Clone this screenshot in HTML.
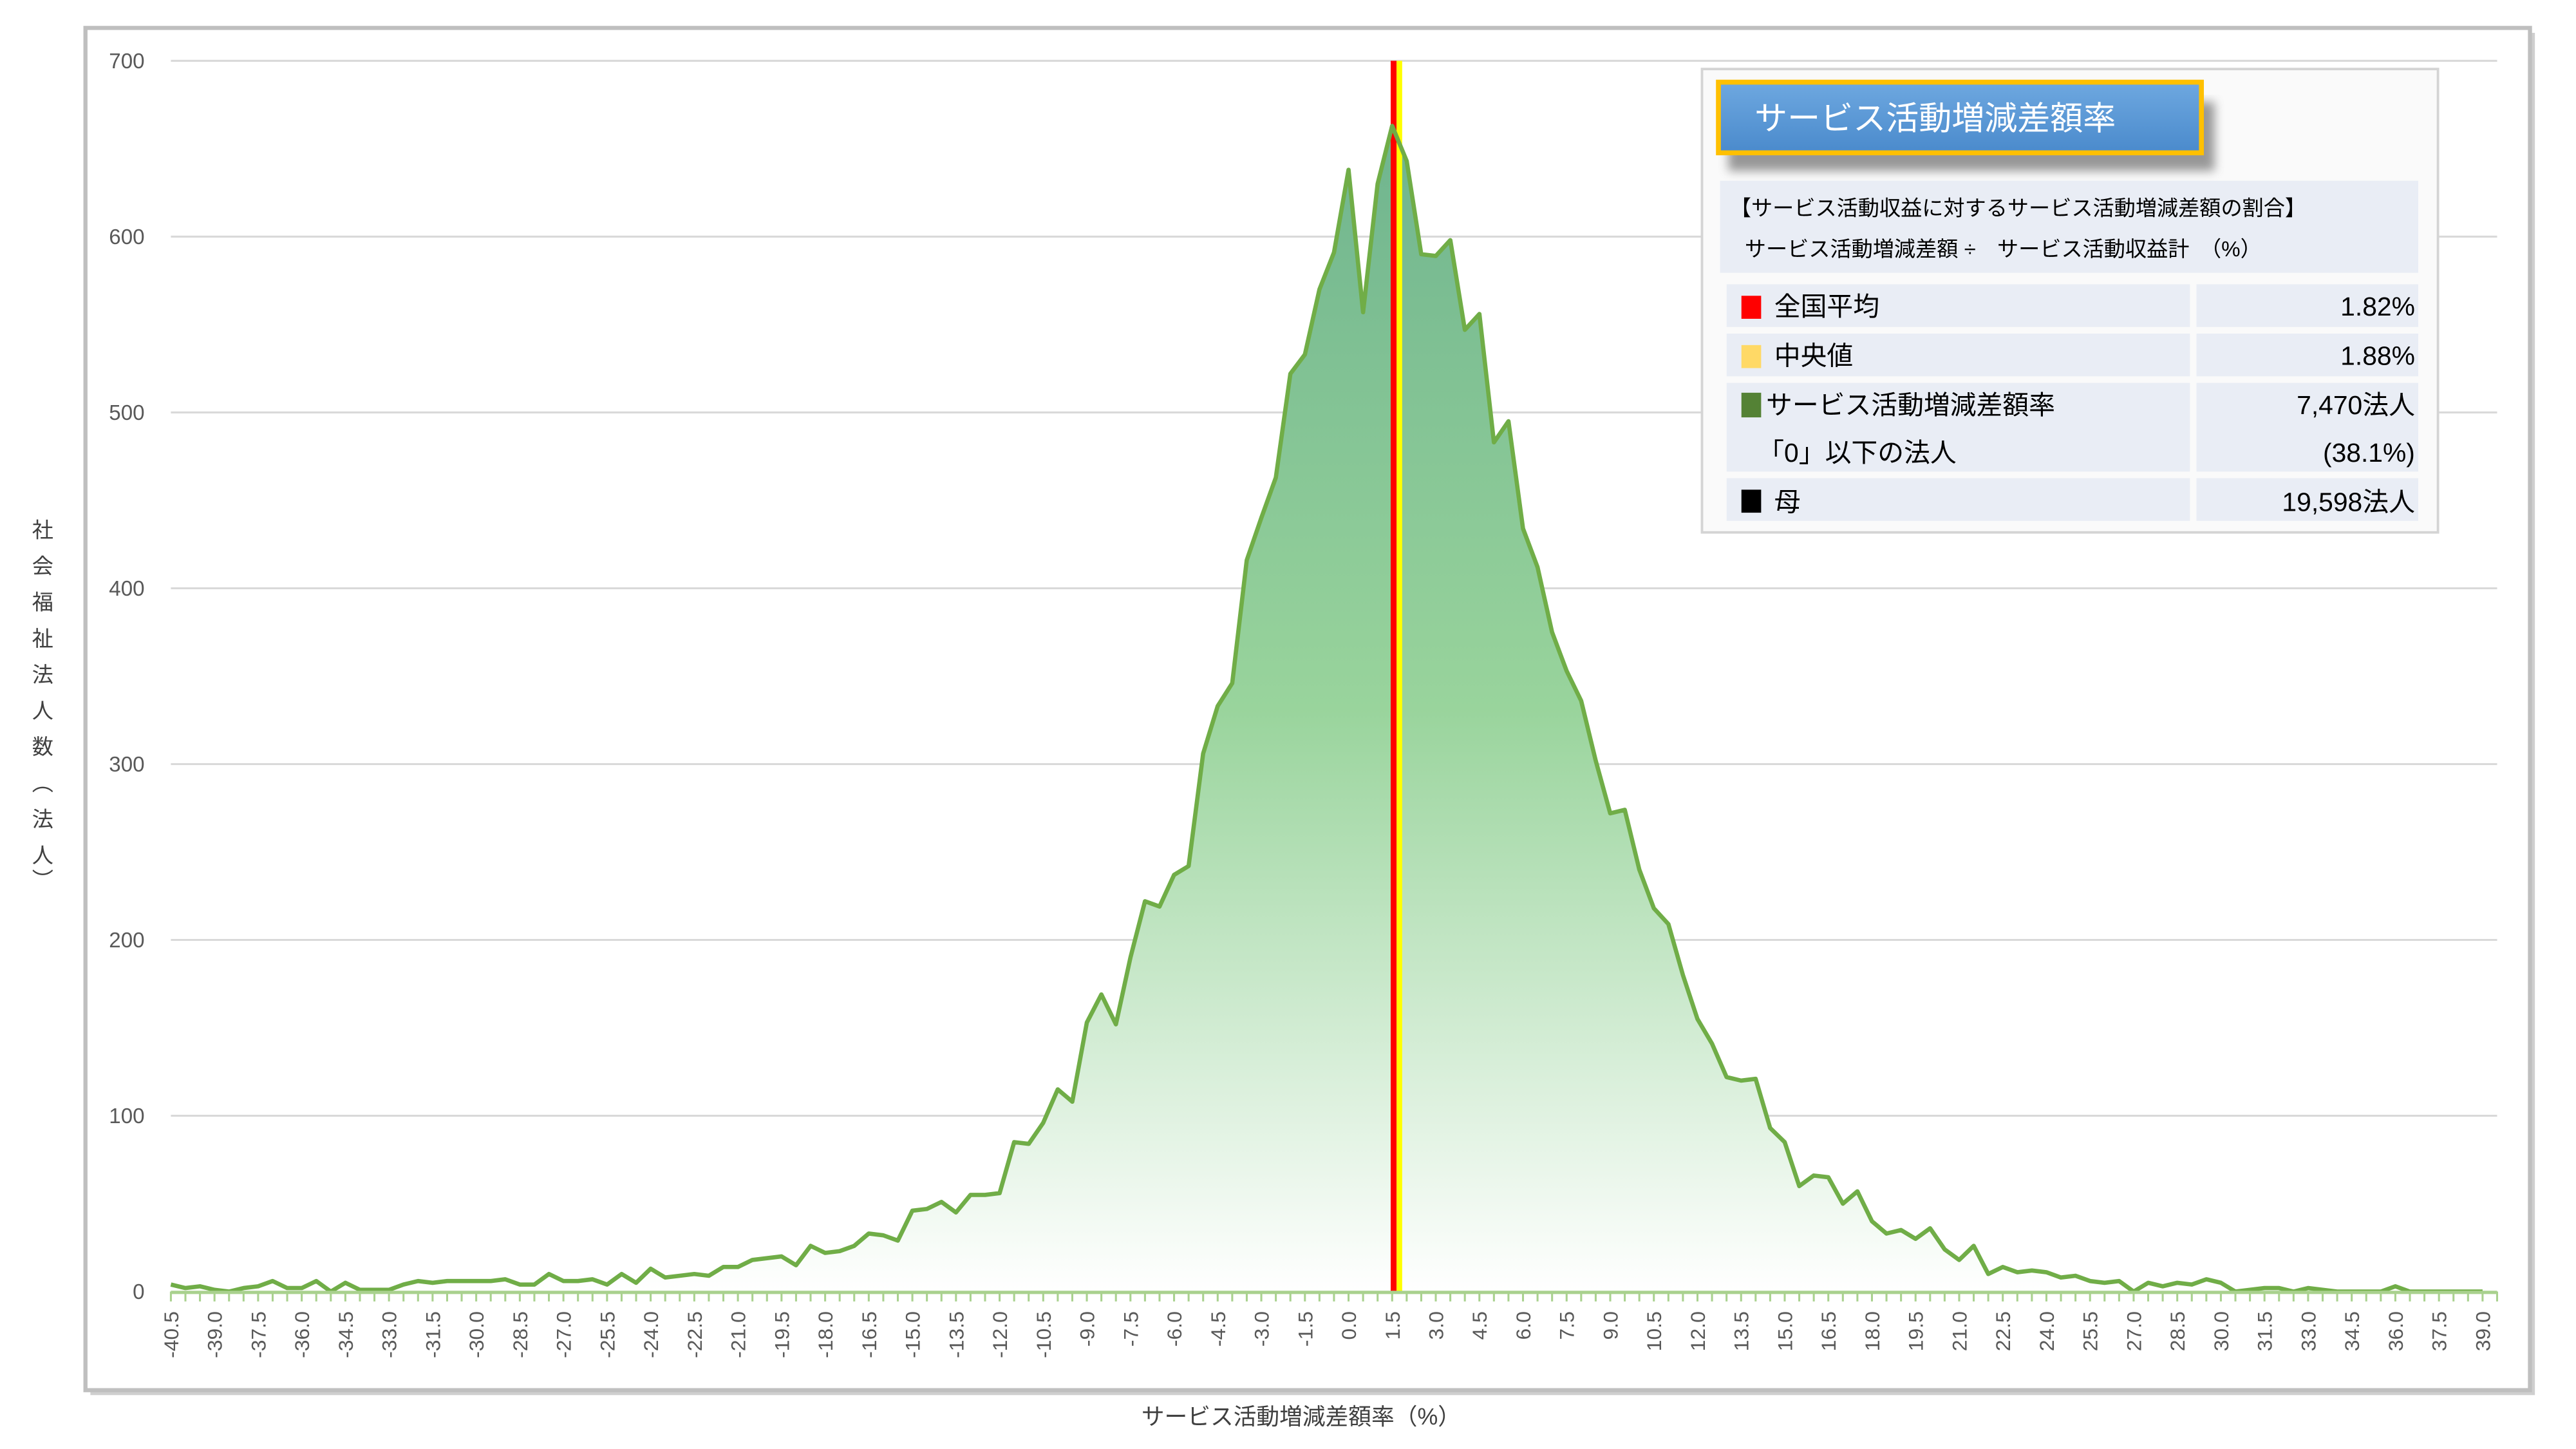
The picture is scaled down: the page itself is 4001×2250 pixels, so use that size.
<!DOCTYPE html>
<html><head><meta charset="utf-8"><style>
html,body{margin:0;padding:0;background:#fff;}
svg{display:block;}
text{font-family:"Liberation Sans","Noto Sans CJK JP",sans-serif;}
</style></head><body>
<svg id="s" width="4001" height="2250" viewBox="0 0 1568 881.8" xmlns="http://www.w3.org/2000/svg">
<defs>
<linearGradient id="fg" x1="0" y1="0" x2="0" y2="1" gradientUnits="objectBoundingBox">
<stop offset="0" stop-color="#6fb48e"/>
<stop offset="0.5" stop-color="#99d49c"/>
<stop offset="1" stop-color="#ffffff"/>
</linearGradient>
<linearGradient id="bg" x1="0" y1="0" x2="0" y2="1">
<stop offset="0" stop-color="#6ea8e0"/>
<stop offset="1" stop-color="#4a8acc"/>
</linearGradient>
<filter id="sh" x="-10%" y="-10%" width="130%" height="160%"><feGaussianBlur stdDeviation="3"/></filter>
</defs>
<rect x="0" y="0" width="1568" height="881.8" fill="#fff"/>
<rect x="55" y="20" width="1488" height="829" fill="#cfcfcf"/>
<rect x="52" y="17" width="1488" height="829" fill="#fff" stroke="#bfbfbf" stroke-width="2.5"/>
<g id="grid"></g>
<path id="area" fill="url(#fg)"/>
<rect x="846.5" y="37" width="3.6" height="749" fill="#ff0000"/>
<rect x="850.1" y="37" width="3.4" height="749" fill="#ffff00"/>
<path id="line" fill="none" stroke="#70ad47" stroke-width="2.6" stroke-linejoin="round"/>
<g id="axis"></g>
<g id="ylab" font-size="13" fill="#595959" text-anchor="end"></g>
<g id="xlab" font-size="12.5" fill="#595959"></g>
<g font-size="13" fill="#404040" text-anchor="middle">
<text x="26" y="327">社</text><text x="26" y="349">会</text><text x="26" y="371">福</text><text x="26" y="393">祉</text><text x="26" y="415">法</text><text x="26" y="437">人</text><text x="26" y="459">数</text><text x="26" y="481">︵</text><text x="26" y="503">法</text><text x="26" y="525">人</text><text x="26" y="540">︶</text>
</g>
<text x="792" y="867" font-size="14" fill="#404040" text-anchor="middle">サービス活動増減差額率（%）</text>
<rect x="1036" y="42" width="448" height="282" fill="#fafafa" stroke="#d4d4d4" stroke-width="1.5"/>
<rect x="1052" y="62" width="296" height="42" fill="#7f7f7f" filter="url(#sh)" opacity="0.8"/>
<rect x="1046" y="50" width="294" height="43" fill="url(#bg)" stroke="#ffc000" stroke-width="3"/>
<text x="1068" y="79" font-size="20" fill="#fff">サービス活動増減差額率</text>
<rect x="1047" y="110" width="425" height="56" fill="#e9edf5"/>
<text x="1053" y="131" font-size="13" fill="#000">【サービス活動収益に対するサービス活動増減差額の割合】</text>
<text x="1062" y="156" font-size="13" fill="#000">サービス活動増減差額 ÷　サービス活動収益計　（%）</text>
<g fill="#e9edf5">
<rect x="1051" y="173" width="282" height="26"/><rect x="1337" y="173" width="135" height="26"/>
<rect x="1051" y="203" width="282" height="26"/><rect x="1337" y="203" width="135" height="26"/>
<rect x="1051" y="233" width="282" height="54"/><rect x="1337" y="233" width="135" height="54"/>
<rect x="1051" y="291" width="282" height="26"/><rect x="1337" y="291" width="135" height="26"/>
</g>
<rect x="1060" y="180" width="12" height="14" fill="#ff0000"/>
<rect x="1060" y="210" width="12" height="14" fill="#ffd966"/>
<rect x="1060" y="239" width="12" height="15" fill="#548235"/>
<rect x="1060" y="298" width="12" height="14" fill="#000"/>
<g font-size="16" fill="#000">
<text x="1080" y="192">全国平均</text>
<text x="1080" y="222">中央値</text>
<text x="1075" y="252">サービス活動増減差額率</text>
<text x="1070" y="281">「0」以下の法人</text>
<text x="1080" y="311">母</text>
</g>
<g font-size="16" fill="#000" text-anchor="end">
<text x="1470" y="192">1.82%</text>
<text x="1470" y="222">1.88%</text>
<text x="1470" y="252">7,470法人</text>
<text x="1470" y="281">(38.1%)</text>
<text x="1470" y="311">19,598法人</text>
</g>
</svg>
<script>
var v=[4,2,3,1,0,2,3,6,2,2,6,0,5,1,1,1,4,6,5,6,6,6,6,7,4,4,10,6,6,7,4,10,5,13,8,9,10,9,14,14,18,19,20,15,26,22,23,26,33,32,29,46,47,51,45,55,55,56,85,84,96,115,108,153,169,152,190,222,219,237,242,306,333,346,416,440,463,522,533,570,591,638,557,630,663,643,590,589,598,547,556,483,495,434,412,375,353,336,302,272,274,240,218,209,180,155,141,122,120,121,93,85,60,66,65,50,57,40,33,35,30,36,24,18,26,10,14,11,12,11,8,9,6,5,6,0,5,3,5,4,7,5,0,1,2,2,0,2,1,0,0,0,0,3,0,0,0,0,0,0];
while(v.length<160)v.push(0);
var NS="http://www.w3.org/2000/svg",x0=104,dx=8.85,y0=786,ky=749/700;
function X(i){return x0+dx*i;}function Y(a){return y0-a*ky;}
var g=document.getElementById("grid"),yl=document.getElementById("ylab");
for(var k=0;k<=7;k++){var y=Y(k*100);
 if(k>0){var l=document.createElementNS(NS,"line");l.setAttribute("x1",104);l.setAttribute("x2",1520);l.setAttribute("y1",y);l.setAttribute("y2",y);l.setAttribute("stroke","#d9d9d9");l.setAttribute("stroke-width","1.2");g.appendChild(l);}
 var t=document.createElementNS(NS,"text");t.setAttribute("x",88);t.setAttribute("y",y+4.5);t.textContent=k*100;yl.appendChild(t);}
var d="",i;for(i=0;i<160;i++){d+=(i?"L":"M")+X(i).toFixed(2)+","+Y(v[i]).toFixed(2);}
document.getElementById("line").setAttribute("d",d);
document.getElementById("area").setAttribute("d",d+"L"+X(159)+","+y0+"L"+x0+","+y0+"Z");
var ax=document.getElementById("axis"),s='<line x1="104" x2="1520" y1="786.5" y2="786.5" stroke="#a9d18e" stroke-width="2"/>';
for(i=0;i<=160;i++){var xx=X(i);s+='<line x1="'+xx+'" x2="'+xx+'" y1="786" y2="792" stroke="#a9d18e" stroke-width="1.2"/>';}
ax.innerHTML=s;
var xl=document.getElementById("xlab"),s2="";
for(i=0;i<160;i+=3){var val=(-40.5+0.5*i).toFixed(1);var xx=X(i)+4.5;
 s2+='<text transform="translate('+xx+',798) rotate(-90)" text-anchor="end">'+val+'</text>';}
xl.innerHTML=s2;
</script>
</body></html>
